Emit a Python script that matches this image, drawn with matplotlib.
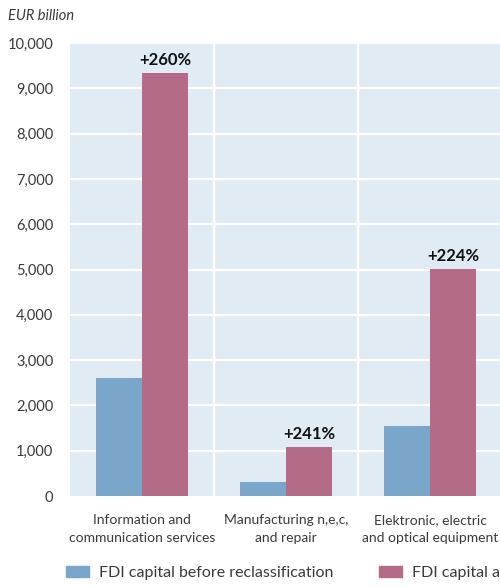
import numpy as np
import matplotlib.pyplot as plt
from matplotlib.patches import Patch

plt.rcParams['font.family'] = ['Lato', 'DejaVu Sans']

categories = ["Information and\ncommunication services",
              "Manufacturing n,e,c,\nand repair",
              "Elektronic, electric\nand optical equipment"]
before = [2600, 320, 1550]
after = [9340, 1090, 5010]
growth = ["+260%", "+241%", "+224%"]
series = ["FDI capital before reclassification", "FDI capital after reclassification"]
yticks = np.arange(0, 10001, 1000)

c_before = "#7aa6c9"
c_after = "#b46b87"
bg = "#e1ebf4"
txt = "#3a3a3a"

fig = plt.figure(figsize=[5, 5.87], dpi=100)
ax = fig.add_axes([0.14, 0.155, 0.864, 0.7717])
ax.set_facecolor(bg)

x = np.arange(len(categories))
w = 0.32
ax.bar(x - w / 2, before, w, color=c_before, zorder=3)
ax.bar(x + w / 2, after, w, color=c_after, zorder=3)

for i, g in enumerate(growth):
    ax.text(x[i] + w / 2, after[i] + 110, g, ha="center", va="bottom",
            fontsize=12, fontweight="bold", color="#111111", zorder=4)

ax.set_xlim(-0.5, 2.5)
ax.set_ylim(0, 10000)
ax.set_yticks(yticks)
ax.set_yticklabels([f"{v:,}" for v in yticks], fontsize=10.5, color=txt)
ax.set_xticks(x)
ax.set_xticklabels(categories, fontsize=10, color=txt, linespacing=1.6)
ax.tick_params(length=0)
ax.tick_params(axis="y", pad=12)
ax.tick_params(axis="x", pad=13)

# white grid: horizontal at each tick, vertical between groups
for v in yticks[1:]:
    ax.axhline(v, color="white", lw=1.6, zorder=1)
for b in [0.5, 1.5]:
    ax.axvline(b, color="white", lw=1.6, zorder=1)

for s in ax.spines.values():
    s.set_visible(False)

fig.text(0.016, 0.973, "EUR billion", fontsize=10.5, style="italic", color=txt,
         va="center")

handles = [Patch(color=c_before), Patch(color=c_after)]
fig.legend(handles, series, loc="center left", bbox_to_anchor=(0.103, 0.024),
           ncol=2, frameon=False, fontsize=11.5, handlelength=1.45,
           handleheight=0.75, handletextpad=0.6, columnspacing=2.9,
           labelcolor=txt)

fig.savefig("out.png", dpi=100)
